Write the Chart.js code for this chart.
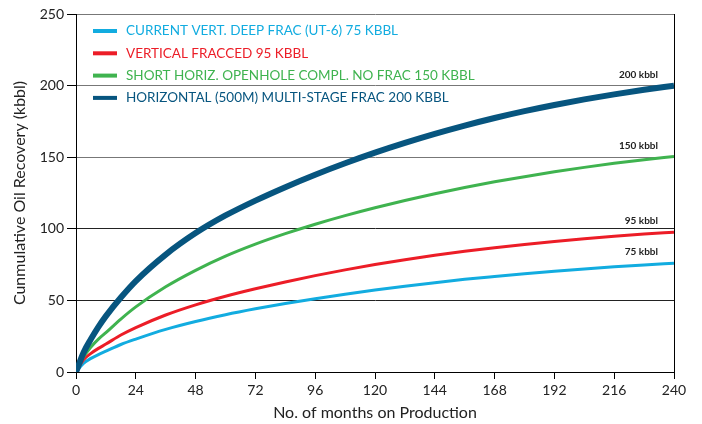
<!DOCTYPE html>
<html>
<head>
<meta charset="utf-8">
<script src="https://cdn.jsdelivr.net/npm/chart.js@4/dist/chart.umd.min.js"></script>
<style>
  html, body { margin: 0; padding: 0; background: #fff; }
  canvas { display: block; }
</style>
</head>
<body>
<canvas id="chartContainer" width="702" height="424"></canvas>
<script>
// months on production (x values)
const months = [0, 3, 6, 9, 12, 18, 24, 36, 48, 60, 72, 84, 96, 108, 120, 132, 144, 156, 168, 180, 192, 204, 216, 228, 240];

// cumulative oil recovery, kbbl
const currentVert = [0, 6, 9.5, 12.2, 14.5, 19.2, 23, 29.8, 35.3, 40, 44.1, 47.8, 51.2, 54.3, 57.2, 59.9, 62.4, 64.7, 66.7, 68.6, 70.4, 72, 73.5, 74.8, 76];
const verticalFrac = [0, 8.5, 13, 16.5, 19.5, 25.8, 31, 39.8, 46.9, 52.9, 58.1, 62.9, 67.3, 71.3, 75, 78.4, 81.5, 84.3, 86.8, 89.1, 91.2, 93.1, 94.8, 96.3, 97.6];
const shortHoriz = [0, 10.5, 17.5, 23, 27.5, 37, 45.5, 59.5, 71, 80.9, 89.3, 96.6, 103.2, 109.2, 114.7, 119.8, 124.5, 128.8, 132.8, 136.4, 139.8, 142.9, 145.7, 148.2, 150.5];
const horizMulti = [0, 13.5, 23, 31.5, 39, 52, 63.5, 82, 97, 109.3, 119.7, 129.1, 137.8, 145.8, 153.2, 160, 166.3, 172.1, 177.4, 182.2, 186.5, 190.4, 193.9, 197.1, 200];

const seriesNames = [
    'CURRENT VERT. DEEP FRAC (UT-6) 75 KBBL',
    'VERTICAL FRACCED 95 KBBL',
    'SHORT HORIZ. OPENHOLE COMPL. NO FRAC 150 KBBL',
    'HORIZONTAL (500M) MULTI-STAGE FRAC 200 KBBL'
];
const endLabels = ['75 kbbl', '95 kbbl', '150 kbbl', '200 kbbl'];
const colors = ['#12ace0', '#ec1d27', '#3fb34f', '#07557f'];

const FONT = 'Lato, "Open Sans", sans-serif';

function toPoints(values) {
    return months.map((m, i) => ({x: m, y: values[i]}));
}

// legend drawn inside the plot + end-of-curve labels + right border
const decorations = {
    id: 'decorations',
    afterDatasetsDraw(chart) {
        const {ctx, chartArea, scales} = chart;
        ctx.save();
        // right frame line
        ctx.strokeStyle = '#000';
        ctx.lineWidth = 1;
        ctx.beginPath();
        ctx.moveTo(chartArea.right + 0.5, chartArea.top);
        ctx.lineTo(chartArea.right + 0.5, chartArea.bottom);
        ctx.stroke();

        // legend
        ctx.font = '13.5px ' + FONT;
        ctx.textBaseline = 'middle';
        ctx.textAlign = 'left';
        seriesNames.forEach((name, i) => {
            const y = chartArea.top + 17 + i * 22.3;
            ctx.fillStyle = colors[i];
            ctx.fillRect(chartArea.left + 17, y - 2, 24, 4);
            ctx.fillText(name, chartArea.left + 50, y);
        });

        // end labels
        ctx.font = 'bold 10px ' + FONT;
        ctx.textAlign = 'right';
        ctx.fillStyle = '#222';
        const series = [currentVert, verticalFrac, shortHoriz, horizMulti];
        series.forEach((vals, i) => {
            const y = scales.y.getPixelForValue(vals[vals.length - 1]) - 11;
            ctx.fillText(endLabels[i], chartArea.right - 16, y);
        });
        ctx.restore();
    }
};

const ctx = document.getElementById('chartContainer').getContext('2d');
const chart = new Chart(ctx, {
    type: 'line',
    data: {
        datasets: [
            {label: seriesNames[0], data: toPoints(currentVert), borderColor: colors[0], borderWidth: 3, order: 3},
            {label: seriesNames[1], data: toPoints(verticalFrac), borderColor: colors[1], borderWidth: 3, order: 2},
            {label: seriesNames[2], data: toPoints(shortHoriz), borderColor: colors[2], borderWidth: 3, order: 1},
            {label: seriesNames[3], data: toPoints(horizMulti), borderColor: colors[3], borderWidth: 6, order: 0}
        ]
    },
    options: {
        responsive: false,
        animation: false,
        layout: {padding: {top: 14, right: 28, left: 0, bottom: 0}},
        elements: {
            point: {radius: 0},
            line: {cubicInterpolationMode: 'monotone', fill: false, borderCapStyle: 'butt'}
        },
        plugins: {
            legend: {display: false},
            tooltip: {enabled: false}
        },
        scales: {
            x: {
                type: 'linear',
                min: 0,
                max: 240,
                afterFit(scale) { scale.height = 52; },
                ticks: {stepSize: 24, color: '#222', padding: 3, font: {family: FONT, size: 14}, maxRotation: 0},
                grid: {drawOnChartArea: false, drawTicks: true, tickLength: 7, tickColor: '#000'},
                border: {color: '#000', width: 1},
                title: {
                    display: true,
                    text: 'No. of months on Production',
                    color: '#222',
                    font: {family: FONT, size: 16},
                    padding: {top: 0, bottom: 2}
                }
            },
            y: {
                min: 0,
                max: 250,
                afterFit(scale) { scale.width = 76; },
                ticks: {stepSize: 50, color: '#222', padding: 3, font: {family: FONT, size: 14}},
                grid: {
                    drawTicks: true,
                    tickLength: 9,
                    tickColor: '#000',
                    color: (c) => (c.tick && c.tick.value >= 150 ? '#777' : '#222'),
                    lineWidth: 1
                },
                border: {color: '#000', width: 1},
                title: {
                    display: true,
                    text: 'Cunmulative Oil Recovery (kbbl)',
                    color: '#222',
                    font: {family: FONT, size: 16},
                    padding: {top: 10, bottom: 0}
                }
            }
        }
    },
    plugins: [decorations]
});
</script>
</body>
</html>
